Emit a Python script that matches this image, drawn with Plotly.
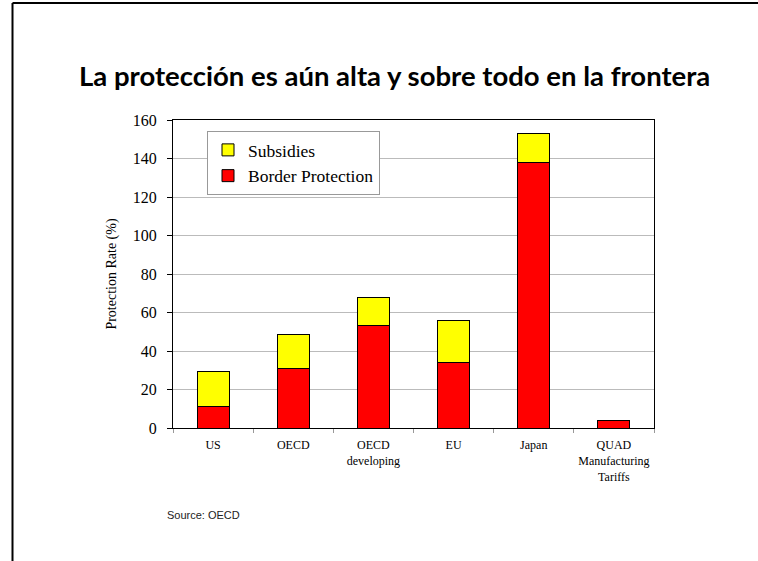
import plotly.graph_objects as go

categories = ['US', 'OECD', 'OECD<br>developing', 'EU', 'Japan', 'QUAD<br>Manufacturing<br>Tariffs']
border_protection = [11, 31, 53, 34, 138, 4]
subsidies = [18.5, 17.5, 15, 22, 15, 0]

fig = go.Figure()

fig.add_trace(go.Bar(x=categories, y=border_protection, name='Border Protection',
                     marker=dict(color='#FF0000', line=dict(color='black', width=1))))
fig.add_trace(go.Bar(x=categories, y=subsidies, name='Subsidies',
                     marker=dict(color='#FFFF00', line=dict(color='black', width=1))))

W, H = 758, 561
L, R, T, B = 173, 654, 120, 428

def px(x):
    return (x - L) / (R - L)

def py(y):
    return (B - y) / (B - T)

fig.update_layout(
    width=W, height=H,
    margin=dict(l=L, r=W - R, t=T, b=H - B),
    barmode='stack', bargap=0.6,
    plot_bgcolor='white', paper_bgcolor='white',
    font=dict(family='Liberation Serif', color='black'),
    showlegend=True,
    legend=dict(x=px(207), y=py(131), xanchor='left', yanchor='top',
                traceorder='reversed', bordercolor='#999999', borderwidth=1,
                font=dict(size=17.5, family='Liberation Serif'), bgcolor='white'),
    xaxis=dict(showline=True, linecolor='black', linewidth=1, mirror=True,
               ticks='outside', tickson='boundaries', ticklen=4, tickcolor='#999999',
               ticklabelstandoff=6, tickangle=0, tickfont=dict(size=12)),
    yaxis=dict(range=[0, 160], dtick=20, showline=True, linecolor='black', linewidth=1,
               mirror=True, ticks='outside', ticklen=5, tickcolor='black',
               ticklabelstandoff=7,
               showgrid=True, gridcolor='#BBBBBB', gridwidth=1,
               tickfont=dict(size=16),
               title=dict(text='Protection Rate (%)', font=dict(size=14), standoff=12)),
)

fig.add_annotation(text='<b>La protección es aún alta y sobre todo en la frontera</b>',
                   xref='paper', yref='paper', x=px(394), y=py(75),
                   xanchor='center', yanchor='middle', showarrow=False,
                   font=dict(family='Lato', size=27.5, color='black'))
fig.add_annotation(text='Source: OECD', xref='paper', yref='paper', x=px(165), y=py(515),
                   xanchor='left', yanchor='middle', showarrow=False,
                   font=dict(family='Liberation Sans', size=11, color='#222222'))

# slide frame (left and top edges only)
fig.add_shape(type='line', xref='paper', yref='paper', x0=px(12.5), x1=px(12.5), y0=py(3), y1=py(561),
              line=dict(color='black', width=2))
fig.add_shape(type='line', xref='paper', yref='paper', x0=px(12.5), x1=px(758), y0=py(3), y1=py(3),
              line=dict(color='black', width=2))

fig.write_html('out.html', config={'displayModeBar': False},
               post_script="document.body.style.margin='0px';"
                           "document.documentElement.style.overflow='hidden';")
